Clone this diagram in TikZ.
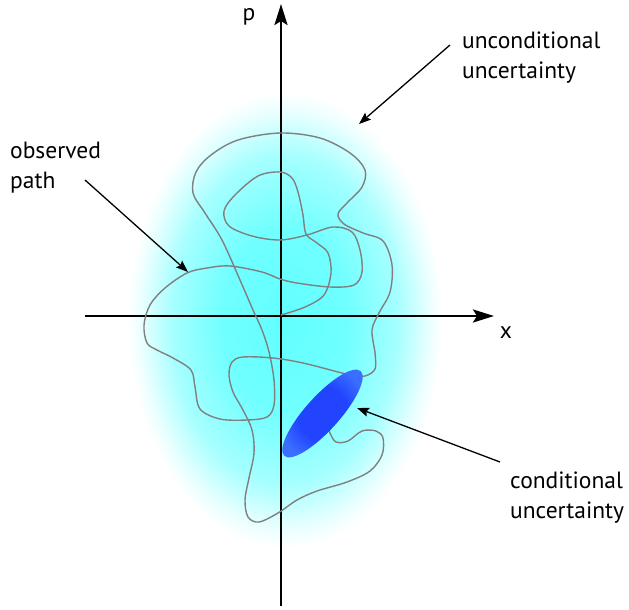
\documentclass[tikz,border=0pt]{standalone}
\usepackage{fontspec}
\setmainfont{PT Sans}
\usetikzlibrary{arrows.meta}

\definecolor{condcore}{RGB}{34,68,255}
\definecolor{condedge}{RGB}{58,110,255}
\definecolor{pathgray}{RGB}{128,128,128}
\pgfdeclareradialshading{uncertblob}{\pgfpoint{0bp}{0bp}}{%
  color(0bp)=(cyan!62); color(10bp)=(cyan!56); color(18bp)=(cyan!35);
  color(23bp)=(cyan!8); color(25bp)=(white); color(50bp)=(white)}
\pgfdeclareradialshading{condblob}{\pgfpoint{0bp}{0bp}}{%
  color(0bp)=(condcore); color(14bp)=(condcore); color(25bp)=(condedge);
  color(50bp)=(condedge)}

\begin{document}
\begin{tikzpicture}[x=1pt, y=-1pt, >=Stealth,
  axis/.style={line width=2.5pt, -{Stealth[length=21pt, width=13pt, inset=4pt]}},
  pointer/.style={line width=1.3pt, -{Stealth[length=12pt, width=9pt, inset=2pt]}},
  label/.style={font=\fontsize{23.5}{30}\selectfont, align=left, inner sep=0pt, anchor=north west}]

  \useasboundingbox (0,0) rectangle (629,610);

  % ==========================================
  % INCERTITUDE NON CONDITIONNELLE (nuage cyan)
  % ==========================================
  \shade[shading=uncertblob] (285,320) ellipse [x radius=157, y radius=228];

  % ==========================================
  % AXES x ET p
  % ==========================================
  \coordinate (origin) at (281,316);
  \coordinate (x_tail) at (85,316);
  \coordinate (x_tip) at (494,316);
  \coordinate (p_tail) at (281,606);
  \coordinate (p_tip) at (281,4);
  \draw[axis] (x_tail) -- (x_tip);
  \draw[axis] (p_tail) -- (p_tip);
  \node[font=\fontsize{23.5}{30}\selectfont, anchor=base] (p_lbl) at (249,21) {p};
  \node[font=\fontsize{23.5}{30}\selectfont, anchor=base] (x_lbl) at (506,338) {x};

  % ==========================================
  % TRAJECTOIRE OBSERVEE (courbe grise)
  % ==========================================
  \draw[pathgray, line width=1.4pt] plot[smooth, tension=0.55] coordinates {
    (281,315) (305,307) (324,295) (331,273) (328,253) (317,243) (306,234)
    (303,215) (298,192) (292,178) (280,172) (258,176) (235,195) (224,211)
    (229,226) (252,236) (280,240) (307,235) (333,227) (352,232) (360,250)
    (362,272) (354,285) (330,287) (297,283) (280,279) (262,272) (230,266)
    (207,268) (187,273) (165,288) (150,305) (144,325) (147,343) (157,350)
    (173,358) (191,370) (195,387) (200,409) (220,419) (247,420) (267,417)
    (274,405) (274,380) (269,352) (262,330) (253,310) (240,280) (222,240)
    (205,213) (193,193) (196,172) (211,155) (238,140) (280,133) (320,138)
    (350,153) (365,170) (362,187) (347,203) (338,214) (344,224) (363,233)
    (383,241) (392,265) (390,292) (379,313) (372,330) (375,353) (375,369)
    (365,376) (352,375) (342,373) (303,363) (273,358) (243,357) (232,362)
    (229,375) (233,392) (243,410) (252,430) (254,453) (249,478) (245,500)
    (248,517) (259,522) (278,513) (297,500) (317,491) (347,482) (370,471)
    (382,455) (383,438) (376,431) (362,431) (348,441) (336,442) (330,433)
    (324,418)};

  % ==========================================
  % INCERTITUDE CONDITIONNELLE (ellipse bleue)
  % ==========================================
  \coordinate (cond) at (322.5,413.5);
  \shade[shading=condblob, rotate around={48:(cond)}]
    (cond) ellipse [x radius=57, y radius=17];

  % ==========================================
  % ETIQUETTES ET FLECHES
  % ==========================================
  \node[label] (lbl_uncond) at (462,31.5) {unconditional\\uncertainty};
  \coordinate (uncond_tip) at (359,124);
  \draw[pointer] (450,45) -- (uncond_tip);

  \node[label] (lbl_path) at (10,141.5) {observed\\path};
  \coordinate (path_tip) at (188,272);
  \draw[pointer] (85,180) -- (path_tip);

  \node[label] (lbl_cond) at (510,471.5) {conditional\\uncertainty};
  \coordinate (cond_tip) at (357,408);
  \draw[pointer] (500,462) -- (cond_tip);

\end{tikzpicture}
\end{document}
